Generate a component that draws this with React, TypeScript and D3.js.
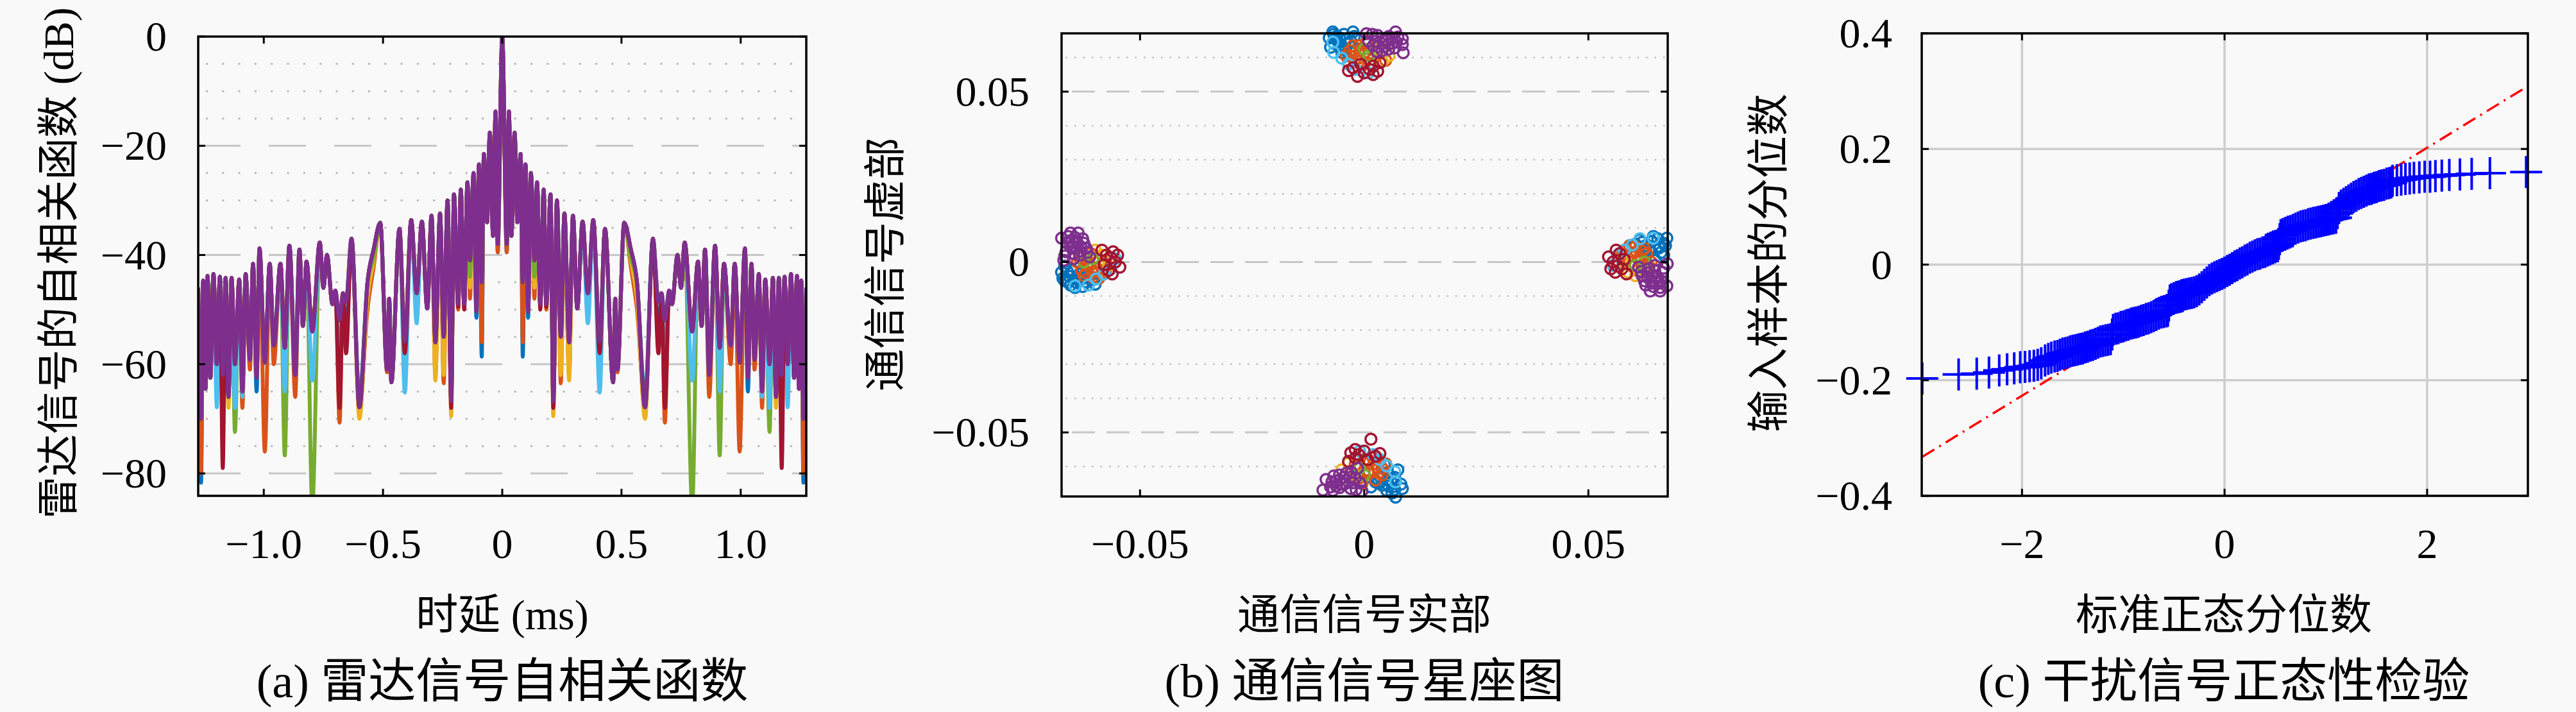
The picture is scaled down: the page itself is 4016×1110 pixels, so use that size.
import React from "react";
import { scaleLinear, line, curveMonotoneX } from "d3";

// ---------- (a) radar autocorrelation: positive lags, the curve is symmetric ----------
const lagMs = [
  0, 0.019, 0.028, 0.0385, 0.052, 0.0636, 0.077, 0.086, 0.0977, 0.1084, 0.12, 0.1353, 0.146,
  0.1595, 0.1738, 0.1846, 0.2025, 0.214, 0.2294, 0.2455, 0.2608, 0.2805, 0.2966, 0.3145, 0.337,
  0.359, 0.3817, 0.4086, 0.431, 0.465, 0.474, 0.483, 0.5116, 0.5385, 0.565, 0.599, 0.632, 0.655,
  0.668, 0.682, 0.7, 0.712, 0.735, 0.75, 0.765, 0.7966, 0.8208, 0.836, 0.8504, 0.868, 0.8925,
  0.912, 0.93, 0.958, 0.975, 0.9955, 1.018, 1.03, 1.045, 1.058, 1.076, 1.0896, 1.103, 1.121,
  1.135, 1.148, 1.16, 1.172, 1.184, 1.197, 1.211, 1.224, 1.236, 1.244, 1.254, 1.263, 1.275,
];
const purpleDb = [
  0, -38, -13.7, -36.5, -17.6, -34, -21.5, -45, -23.4, -50.4, -25, -41, -26.7, -49, -28, -49,
  -28.9, -66.8, -30, -55, -32.4, -56, -32.8, -49.8, -33.9, -47, -33.6, -55.8, -35.2, -63.3, -48,
  -61, -34.1, -38.8, -45, -67.9, -37, -48.6, -47, -52, -46.5, -49, -40, -46, -37.7, -54, -41.2,
  -53, -39, -62, -38.3, -57, -41.6, -56.6, -41.6, -59.7, -38.8, -62.5, -41.6, -59.2, -43.5, -65,
  -44.5, -60, -44.2, -66, -44.2, -62, -44, -60, -43.5, -62.5, -43.8, -64.5, -44.7, -70, -46,
];
// where the other runs dip below the purple trace: [lag, dB]
const blueDips: [number, number][] = [
  [0.019, -39.5], [0.086, -58.6], [0.1084, -51.5], [0.214, -66], [0.359, -51], [0.4086, -57],
  [0.599, -66], [0.655, -55], [0.682, -62], [0.868, -60], [1.03, -65], [1.263, -81.7],
];
const orangeDips: [number, number][] = [
  [0.019, -39.5], [0.086, -56], [0.1353, -48], [0.1846, -50], [0.2455, -63.5], [0.2805, -62],
  [0.359, -49], [0.483, -61.5], [0.5385, -42], [0.565, -50], [0.682, -70.7], [0.868, -66],
  [0.958, -60], [0.9955, -76], [1.058, -61], [1.0896, -68], [1.263, -80],
];
const yellowDips: [number, number][] = [
  [0.1353, -46], [0.214, -69.5], [0.2455, -62], [0.2805, -63], [0.5385, -41], [0.565, -48],
  [0.599, -70], [1.148, -68],
];
const greenDips: [number, number][] = [
  [0.1353, -44], [0.5385, -40.5], [0.7966, -86], [0.912, -76.7], [1.121, -72.4],
];
const cyanDips: [number, number][] = [
  [0.214, -64], [0.359, -52.5], [0.4086, -65.2], [0.682, -65], [0.7966, -63], [0.912, -65],
  [1.0896, -66], [1.121, -68], [1.197, -67.9],
];
const redDips: [number, number][] = [
  [0.1595, -50], [0.1846, -49.5], [0.214, -68], [0.4086, -58], [0.655, -58], [0.682, -68],
  [1.172, -79],
];
const aXTicks = [-1, -0.5, 0, 0.5, 1];
const aXLabels = ["−1.0", "−0.5", "0", "0.5", "1.0"];
const aYTicks = [0, -20, -40, -60, -80];
const aYLabels = ["0", "−20", "−40", "−60", "−80"];
const aMinorGrid = [-5, -10, -15, -25, -30, -35, -45, -50, -55, -65, -70, -75];
const aMajorGrid = [-20, -40, -60, -80];

// ---------- (b) constellation: [real, imag] per run ----------
const blueSyms: [number, number][] = [
  [-0.0675, -0.003], [-0.066, -0.006], [-0.064, -0.005], [-0.0668, -0.0012], [-0.0628, -0.0072], [-0.0615, -0.004], [-0.065, -0.0025], [-0.06, -0.0065],
  [-0.0672, -0.0048], [-0.0655, -0.0068], [-0.0635, -0.0035], [-0.062, -0.0058], [-0.0668, -0.0055], [-0.0645, -0.0075],
  [-0.0658, -0.0042], [-0.0642, -0.006], [-0.0628, -0.0048], [-0.0662, -0.0028], [-0.0605, -0.0052],
  [-0.007, 0.0675], [-0.0045, 0.0668], [-0.0025, 0.0675], [-0.006, 0.065], [-0.0035, 0.064], [-0.0075, 0.063], [-0.0015, 0.0655], [-0.005, 0.0615],
  [-0.0062, 0.0662], [-0.004, 0.0652], [-0.0068, 0.0642], [-0.0048, 0.0628], [-0.0022, 0.0662], [-0.0078, 0.0658],
  [-0.0055, 0.0658], [-0.0052, 0.0638], [-0.003, 0.0648], [-0.0068, 0.0668], [-0.0042, 0.0622],
  [0.0675, 0.007], [0.066, 0.0045], [0.064, 0.006], [0.0668, 0.002], [0.0628, 0.0035], [0.0615, 0.0065], [0.065, 0.0005], [0.06, 0.005],
  [0.0672, 0.0048], [0.0655, 0.0068], [0.0635, 0.0035], [0.062, 0.0058], [0.0668, 0.0055], [0.0645, 0.0075],
  [0.0658, 0.0042], [0.0642, 0.006], [0.0628, 0.0048], [0.0662, 0.0028], [0.0605, 0.0052],
  [0.007, -0.069], [0.005, -0.067], [0.0085, -0.0665], [0.006, -0.0645], [0.0035, -0.063], [0.0075, -0.061], [0.0015, -0.066], [0.0045, -0.0595],
  [0.0062, -0.0678], [0.004, -0.0655], [0.0068, -0.0632], [0.0052, -0.0618], [0.0025, -0.0645], [0.0082, -0.0652],
  [0.0055, -0.0658], [0.0052, -0.0638], [0.003, -0.0648], [0.0068, -0.0668], [0.0042, -0.0622],
];
const orangeSyms: [number, number][] = [
  [-0.062, 0.001], [-0.0595, -0.002], [-0.0605, -0.0045], [-0.058, 0], [-0.063, -0.0025], [-0.061, 0.0025], [-0.0585, -0.0035], [-0.064, 0],
  [-0.0612, -0.001], [-0.0598, 0.0012], [-0.0625, -0.004], [-0.0592, -0.0048], [-0.0635, 0.0012], [-0.0575, -0.002],
  [-0.0602, -0.0028], [-0.0615, 0], [-0.0588, -0.0012], [-0.062, -0.0032],
  [-0.001, 0.062], [0.002, 0.0595], [-0.004, 0.0605], [0, 0.058], [-0.0025, 0.0635], [0.003, 0.0615], [-0.0035, 0.0585], [0.0005, 0.0645],
  [0.001, 0.0612], [-0.0012, 0.0598], [0.004, 0.0625], [0.0048, 0.0592], [-0.0012, 0.0635], [0.002, 0.0575],
  [-0.0028, 0.0602], [0, 0.0615], [-0.0012, 0.0588], [-0.0032, 0.062],
  [0.062, -0.001], [0.0595, 0.002], [0.0605, 0.0045], [0.058, 0], [0.063, 0.0025], [0.061, -0.0025], [0.0585, 0.0035], [0.064, 0],
  [0.0612, 0.001], [0.0598, -0.0012], [0.0625, 0.004], [0.0592, 0.0048], [0.0635, -0.0012], [0.0575, 0.002],
  [0.0602, 0.0028], [0.0615, 0], [0.0588, 0.0012], [0.062, 0.0032],
  [0.001, -0.062], [-0.002, -0.0595], [0.004, -0.0605], [0, -0.058], [0.0025, -0.064], [-0.003, -0.0615], [0.0035, -0.0585], [-0.0005, -0.065],
  [0.001, -0.0612], [-0.0012, -0.0598], [0.004, -0.0625], [0.0048, -0.0592], [-0.0012, -0.0635], [0.002, -0.0575],
  [0.0028, -0.0602], [0, -0.0615], [0.0012, -0.0588], [0.0032, -0.062],
];
const yellowSyms: [number, number][] = [
  [-0.0585, 0.002], [-0.057, -0.001], [-0.06, 0.0035],
  [0.004, 0.059], [0.003, 0.0625], [0.0055, 0.0605],
  [0.059, -0.003], [0.0575, 0.0005], [0.0605, -0.004],
  [-0.0035, -0.059], [-0.002, -0.0625], [-0.005, -0.061],
];
const greenSyms: [number, number][] = [
  [-0.0625, 0], [-0.0605, 0.001], [0, 0.0625], [0.001, 0.0605],
  [0.0625, 0], [0.0605, -0.001], [0, -0.0625], [-0.001, -0.0605],
];
const cyanSyms: [number, number][] = [
  [-0.058, -0.0035], [-0.0565, -0.002], [-0.0645, -0.007], [-0.0555, 0.001], [-0.0598, -0.005], [-0.0615, -0.0068],
  [-0.0035, 0.058], [-0.002, 0.0565], [-0.007, 0.0645], [0.001, 0.0555], [-0.005, 0.0598], [-0.0068, 0.0615],
  [0.058, 0.0035], [0.0565, 0.002], [0.0645, 0.007], [0.0555, -0.001], [0.0598, 0.005], [0.0615, 0.0068],
  [0.0035, -0.058], [0.002, -0.0565], [0.007, -0.0645], [-0.001, -0.0555], [0.005, -0.0598], [0.0068, -0.0615],
];
const redSyms: [number, number][] = [
  [-0.0575, 0.002], [-0.0555, 0], [-0.057, -0.0025], [-0.0585, 0.0035], [-0.0545, -0.0015], [-0.056, 0.003],
  [-0.0565, 0.0012], [-0.058, -0.0008], [-0.055, 0.002], [-0.0562, -0.0035],
  [0.002, 0.0575], [0, 0.0555], [-0.0025, 0.057], [0.0035, 0.0585], [-0.0015, 0.0545], [0.003, 0.056],
  [0.0012, 0.0565], [-0.0008, 0.058], [0.002, 0.055], [-0.0035, 0.0562],
  [0.0575, -0.002], [0.0555, 0], [0.057, 0.0025], [0.0585, -0.0035], [0.0545, 0.0015], [0.056, -0.003],
  [0.0565, -0.0012], [0.058, 0.0008], [0.055, -0.002], [0.0562, 0.0035],
  [-0.002, -0.0575], [0, -0.0555], [0.0025, -0.057], [-0.0035, -0.0585], [0.0015, -0.052], [-0.003, -0.056],
  [-0.0012, -0.0565], [0.0008, -0.058], [-0.002, -0.055], [0.0035, -0.0562],
];
const purpleSyms: [number, number][] = [
  [-0.0675, 0.007], [-0.0665, 0.003], [-0.064, 0.0055], [-0.0635, 0.002], [-0.0655, 0.0085], [-0.062, 0.004], [-0.067, 0.0005], [-0.0648, 0.001], [-0.0628, 0.0068], [-0.0612, 0.0015],
  [-0.0662, 0.0055], [-0.065, 0.0042], [-0.0632, 0.0032], [-0.0645, 0.0072], [-0.0668, 0.0018], [-0.0625, 0.0055], [-0.0658, 0.0062], [-0.0638, 0.0085],
  [-0.0652, 0.0048], [-0.0642, 0.0062], [-0.066, 0.0075], [-0.0632, 0.0045], [-0.0648, 0.0025], [-0.0618, 0.0028],
  [0.007, 0.0675], [0.003, 0.0665], [0.0055, 0.064], [0.002, 0.0635], [0.0085, 0.0655], [0.004, 0.062], [0.0005, 0.067], [0.001, 0.0648], [0.0068, 0.0628], [0.0087, 0.0614],
  [0.0055, 0.0662], [0.0042, 0.065], [0.0032, 0.0632], [0.0072, 0.0645], [0.0018, 0.0668], [0.0055, 0.0625], [0.0062, 0.0658], [0.0085, 0.0638],
  [0.0048, 0.0652], [0.0062, 0.0642], [0.0075, 0.066], [0.0045, 0.0632], [0.0025, 0.0648], [0.0028, 0.0618],
  [0.0675, -0.007], [0.0665, -0.003], [0.064, -0.0055], [0.0635, -0.002], [0.066, -0.0085], [0.062, -0.004], [0.0676, -0.0005], [0.0648, -0.001], [0.0628, -0.0068], [0.0612, -0.0015],
  [0.0662, -0.0055], [0.065, -0.0042], [0.0632, -0.0032], [0.0645, -0.0072], [0.0668, -0.0018], [0.0625, -0.0055], [0.0658, -0.0062], [0.0638, -0.0085],
  [0.0652, -0.0048], [0.0642, -0.0062], [0.066, -0.0075], [0.0632, -0.0045], [0.0648, -0.0025], [0.0618, -0.0028],
  [-0.007, -0.067], [-0.003, -0.0665], [-0.0055, -0.064], [-0.002, -0.0635], [-0.0092, -0.0669], [-0.004, -0.062], [-0.0005, -0.0672], [-0.001, -0.0648], [-0.0068, -0.0628], [-0.0015, -0.0605],
  [-0.0055, -0.0662], [-0.0042, -0.065], [-0.0032, -0.0632], [-0.0072, -0.0645], [-0.0018, -0.0668], [-0.0055, -0.0625], [-0.0062, -0.0658], [-0.0085, -0.0638],
  [-0.0048, -0.0652], [-0.0062, -0.0642], [-0.0075, -0.066], [-0.0045, -0.0632], [-0.0025, -0.0648], [-0.0028, -0.0618],
];
const bTicks = [-0.05, 0, 0.05];
const bLabels = ["−0.05", "0", "0.05"];
const bMinorGrid = [-0.06, -0.04, -0.03, -0.02, -0.01, 0.01, 0.02, 0.03, 0.04, 0.06];

// ---------- (c) normal probability plot: [standard normal quantile, sample quantile] ----------
const qqLowerTail: [number, number][] = [
  [-2.985, -0.197], [-2.626, -0.19], [-2.447, -0.1886], [-2.326, -0.1868], [-2.225, -0.183],
  [-2.147, -0.181], [-2.077, -0.1795], [-2.018, -0.1775], [-1.97, -0.177], [-1.925, -0.176],
  [-1.883, -0.175], [-1.845, -0.1735], [-1.81, -0.1705], [-1.772, -0.166], [-1.74, -0.163],
  [-1.71, -0.161], [-1.678, -0.159],
];
const qqBody: [number, number][] = [
  [-1.65, -0.158], [-1.625, -0.156], [-1.6, -0.154], [-1.575, -0.153], [-1.55, -0.152], [-1.525, -0.15],
  [-1.5, -0.149], [-1.475, -0.148], [-1.45, -0.147], [-1.425, -0.146], [-1.4, -0.145], [-1.375, -0.143],
  [-1.35, -0.142], [-1.325, -0.14], [-1.3, -0.139], [-1.275, -0.137], [-1.25, -0.135], [-1.225, -0.133],
  [-1.2, -0.132], [-1.175, -0.131], [-1.15, -0.13], [-1.125, -0.129], [-1.11, -0.121], [-1.1, -0.113],
  [-1.075, -0.111], [-1.05, -0.11], [-1.025, -0.108], [-1, -0.107], [-0.975, -0.105], [-0.95, -0.104],
  [-0.925, -0.102], [-0.9, -0.101], [-0.875, -0.1], [-0.85, -0.099], [-0.825, -0.097], [-0.8, -0.096],
  [-0.775, -0.094], [-0.75, -0.093], [-0.725, -0.091], [-0.7, -0.089], [-0.675, -0.087], [-0.65, -0.085],
  [-0.625, -0.083], [-0.6, -0.082], [-0.575, -0.081], [-0.56, -0.08], [-0.55, -0.071], [-0.54, -0.062],
  [-0.525, -0.06], [-0.5, -0.058], [-0.475, -0.056], [-0.45, -0.055], [-0.425, -0.053], [-0.4, -0.052],
  [-0.375, -0.051], [-0.35, -0.05], [-0.325, -0.049], [-0.3, -0.048], [-0.275, -0.046], [-0.25, -0.043],
  [-0.225, -0.039], [-0.2, -0.035], [-0.175, -0.031], [-0.15, -0.027], [-0.125, -0.024], [-0.1, -0.022],
  [-0.075, -0.02], [-0.05, -0.018], [-0.025, -0.016], [0, -0.014], [0.025, -0.011], [0.05, -0.009],
  [0.075, -0.006], [0.1, -0.003], [0.125, -0.001], [0.15, 0.002], [0.175, 0.004], [0.2, 0.007],
  [0.225, 0.009], [0.25, 0.012], [0.275, 0.014], [0.3, 0.016], [0.325, 0.018], [0.35, 0.019],
  [0.375, 0.021], [0.4, 0.022], [0.425, 0.024], [0.45, 0.026], [0.475, 0.028], [0.5, 0.03],
  [0.525, 0.032], [0.535, 0.036], [0.545, 0.044], [0.555, 0.051], [0.575, 0.053], [0.6, 0.055],
  [0.625, 0.057], [0.65, 0.058], [0.675, 0.06], [0.7, 0.062], [0.725, 0.064], [0.75, 0.066],
  [0.775, 0.067], [0.8, 0.068], [0.825, 0.07], [0.85, 0.071], [0.875, 0.072], [0.9, 0.073],
  [0.925, 0.074], [0.95, 0.075], [0.975, 0.076], [1, 0.077], [1.025, 0.078], [1.05, 0.079],
  [1.075, 0.08], [1.1, 0.081], [1.115, 0.089], [1.13, 0.098], [1.15, 0.102], [1.175, 0.105],
  [1.2, 0.108], [1.225, 0.111], [1.25, 0.114], [1.275, 0.117], [1.3, 0.119], [1.325, 0.122],
  [1.35, 0.124], [1.375, 0.126], [1.4, 0.128], [1.425, 0.13], [1.45, 0.131], [1.475, 0.133],
  [1.5, 0.134], [1.525, 0.136], [1.55, 0.137], [1.575, 0.138], [1.6, 0.14], [1.625, 0.141], [1.645, 0.142],
];
const qqUpperTail: [number, number][] = [
  [1.659, 0.145], [1.702, 0.146], [1.744, 0.147], [1.786, 0.148], [1.828, 0.149], [1.87, 0.15],
  [1.923, 0.151], [1.976, 0.152], [2.029, 0.152], [2.082, 0.153], [2.145, 0.154], [2.219, 0.155],
  [2.324, 0.156], [2.44, 0.157], [2.62, 0.158], [2.978, 0.16],
];
const qqRefLine: [number, number][] = [[-2.985, -0.3325], [2.978, 0.307]];
const cXTicks = [-2, 0, 2];
const cXLabels = ["−2", "0", "2"];
const cYTicks = [-0.4, -0.2, 0, 0.2, 0.4];
const cYLabels = ["−0.4", "−0.2", "0", "0.2", "0.4"];

// ---------- layout ----------
const W = 4016;
const H = 1110;
const BG = "#f9f9f9";
const NUM_FONT = "'Liberation Serif', 'DejaVu Serif', serif";
const TXT_FONT = "'Liberation Serif', 'Noto Sans CJK SC', serif";
const TICK_FS = 66;
const TITLE_FS = 66;
const CAPTION_FS = 74;

type Box = { left: number; right: number; top: number; bottom: number };
const boxA: Box = { left: 309, right: 1257, top: 57, bottom: 773 };
const boxB: Box = { left: 1655, right: 2600, top: 52, bottom: 774 };
const boxC: Box = { left: 2996, right: 3941, top: 52, bottom: 773 };

const C = {
  blue: "#0072BD",
  orange: "#D95319",
  yellow: "#EDB120",
  purple: "#7E2F8E",
  green: "#77AC30",
  cyan: "#4DBEEE",
  red: "#A2142F",
};

function mirrored(dips: [number, number][]): [number, number][] {
  const dip = new Map(dips);
  const pos = lagMs.map((t, i) => [t, dip.get(t) ?? purpleDb[i]] as [number, number]);
  const neg = pos.slice(1).reverse().map(([t, v]) => [-t, v] as [number, number]);
  return [...neg, ...pos];
}

function Frame({
  box,
  x,
  y,
  xTicks,
  xLabels,
  yTicks,
  yLabels,
  yLabelGap,
}: {
  box: Box;
  x: (v: number) => number;
  y: (v: number) => number;
  xTicks: number[];
  xLabels: string[];
  yTicks: number[];
  yLabels: string[];
  yLabelGap: number;
}) {
  const tl = 11;
  return (
    <g>
      {xTicks.map((t) => (
        <g key={`xt${t}`} stroke="#000" strokeWidth={3}>
          <line x1={x(t)} x2={x(t)} y1={box.bottom} y2={box.bottom - tl} />
          <line x1={x(t)} x2={x(t)} y1={box.top} y2={box.top + tl} />
        </g>
      ))}
      {yTicks.map((t) => (
        <g key={`yt${t}`} stroke="#000" strokeWidth={3}>
          <line x1={box.left} x2={box.left + tl} y1={y(t)} y2={y(t)} />
          <line x1={box.right} x2={box.right - tl} y1={y(t)} y2={y(t)} />
        </g>
      ))}
      <rect
        x={box.left}
        y={box.top}
        width={box.right - box.left}
        height={box.bottom - box.top}
        fill="none"
        stroke="#000"
        strokeWidth={3.5}
      />
      {xTicks.map((t, i) => (
        <text key={`xl${t}`} x={x(t)} y={870} textAnchor="middle" fontFamily={NUM_FONT} fontSize={TICK_FS}>
          {xLabels[i]}
        </text>
      ))}
      {yTicks.map((t, i) => (
        <text
          key={`yl${t}`}
          x={box.left - yLabelGap}
          y={y(t) + 22}
          textAnchor="end"
          fontFamily={NUM_FONT}
          fontSize={TICK_FS}
        >
          {yLabels[i]}
        </text>
      ))}
    </g>
  );
}

function Titles({ cx, xTitle, yTitle, yx, yc, caption }: {
  cx: number; xTitle: string; yTitle: string; yx: number; yc: number; caption: string;
}) {
  return (
    <g fontFamily={TXT_FONT} fill="#000">
      <text x={cx} y={981} textAnchor="middle" fontSize={TITLE_FS}>{xTitle}</text>
      <text transform={`translate(${yx},${yc}) rotate(-90)`} textAnchor="middle" fontSize={TITLE_FS}>
        {yTitle}
      </text>
      <text x={cx} y={1087} textAnchor="middle" fontSize={CAPTION_FS}>{caption}</text>
    </g>
  );
}

export default function App() {
  // (a)
  const xA = scaleLinear().domain([-1.275, 1.275]).range([boxA.left, boxA.right]);
  const yA = scaleLinear().domain([-84.1, 0]).range([boxA.bottom, boxA.top]);
  const lineA = line<[number, number]>()
    .x((d) => xA(d[0]))
    .y((d) => yA(d[1]))
    .curve(curveMonotoneX);
  const runsA: { color: string; dips: [number, number][] }[] = [
    { color: C.blue, dips: blueDips },
    { color: C.orange, dips: orangeDips },
    { color: C.yellow, dips: yellowDips },
    { color: C.green, dips: greenDips },
    { color: C.cyan, dips: cyanDips },
    { color: C.red, dips: redDips },
    { color: C.purple, dips: [] },
  ];

  // (b)
  const xB = scaleLinear().domain([-0.0675, 0.0677]).range([boxB.left, boxB.right]);
  const yB = scaleLinear().domain([-0.0688, 0.0671]).range([boxB.bottom, boxB.top]);
  const runsB: { color: string; pts: [number, number][] }[] = [
    { color: C.blue, pts: blueSyms },
    { color: C.orange, pts: orangeSyms },
    { color: C.yellow, pts: yellowSyms },
    { color: C.green, pts: greenSyms },
    { color: C.cyan, pts: cyanSyms },
    { color: C.red, pts: redSyms },
    { color: C.purple, pts: purpleSyms },
  ];

  // (c)
  const xC = scaleLinear().domain([-2.99, 2.995]).range([boxC.left, boxC.right]);
  const yC = scaleLinear().domain([-0.4, 0.4]).range([boxC.bottom, boxC.top]);
  const qqAll = [...qqLowerTail, ...qqBody, ...qqUpperTail];
  const plusArm = 25;

  return (
    <div style={{ position: "absolute", left: 0, top: 0 }}>
      <svg width={W} height={H} viewBox={`0 0 ${W} ${H}`} style={{ display: "block" }}>
        <rect width={W} height={H} fill={BG} />
        <defs>
          <clipPath id="clipA">
            <rect x={boxA.left} y={boxA.top} width={boxA.right - boxA.left} height={boxA.bottom - boxA.top} />
          </clipPath>
        </defs>

        {/* ---- panel (a) ---- */}
        <g>
          {aMinorGrid.map((v) => (
            <line key={`am${v}`} x1={boxA.left} x2={boxA.right} y1={yA(v)} y2={yA(v)}
              stroke="#b8b8b8" strokeWidth={3} strokeDasharray="3 22.3" strokeDashoffset={-12} />
          ))}
          {aMajorGrid.map((v) => (
            <line key={`aM${v}`} x1={boxA.left} x2={boxA.right} y1={yA(v)} y2={yA(v)}
              stroke="#c6c6c6" strokeWidth={3} strokeDasharray="58 44" strokeDashoffset={-8} />
          ))}
          <g clipPath="url(#clipA)" fill="none" strokeWidth={6} strokeLinejoin="round">
            {runsA.map((r) => (
              <path key={r.color} d={lineA(mirrored(r.dips)) ?? ""} stroke={r.color} />
            ))}
          </g>
          <Frame box={boxA} x={xA} y={yA} xTicks={aXTicks} xLabels={aXLabels}
            yTicks={aYTicks} yLabels={aYLabels} yLabelGap={49} />
          <Titles cx={783} xTitle="时延 (ms)" yTitle="雷达信号的自相关函数 (dB)" yx={114} yc={410}
            caption="(a) 雷达信号自相关函数" />
        </g>

        {/* ---- panel (b) ---- */}
        <g>
          {bMinorGrid.map((v) => (
            <line key={`bm${v}`} x1={boxB.left} x2={boxB.right} y1={yB(v)} y2={yB(v)}
              stroke="#bcbcbc" strokeWidth={2.5} strokeDasharray="2.5 11" strokeDashoffset={-20} />
          ))}
          {bTicks.map((v) => (
            <line key={`bM${v}`} x1={boxB.left} x2={boxB.right} y1={yB(v)} y2={yB(v)}
              stroke="#c6c6c6" strokeWidth={3} strokeDasharray="36 18" strokeDashoffset={-16} />
          ))}
          {runsB.map((r) => (
            <g key={r.color} fill="none" stroke={r.color} strokeWidth={3.5}>
              {r.pts.map((p, i) => (
                <circle key={i} cx={xB(p[0])} cy={yB(p[1])} r={8.5} />
              ))}
            </g>
          ))}
          <Frame box={boxB} x={xB} y={yB} xTicks={bTicks} xLabels={bLabels}
            yTicks={bTicks} yLabels={bLabels} yLabelGap={50} />
          <Titles cx={2127} xTitle="通信信号实部" yTitle="通信信号虚部" yx={1403} yc={412}
            caption="(b) 通信信号星座图" />
        </g>

        {/* ---- panel (c) ---- */}
        <g>
          {cXTicks.map((v) => (
            <line key={`cgx${v}`} x1={xC(v)} x2={xC(v)} y1={boxC.top} y2={boxC.bottom}
              stroke="#cdcdcd" strokeWidth={3.5} />
          ))}
          {cYTicks.map((v) => (
            <line key={`cgy${v}`} x1={boxC.left} x2={boxC.right} y1={yC(v)} y2={yC(v)}
              stroke="#cdcdcd" strokeWidth={3.5} />
          ))}
          <line x1={xC(qqRefLine[0][0])} y1={yC(qqRefLine[0][1])} x2={xC(qqRefLine[1][0])} y2={yC(qqRefLine[1][1])}
            stroke="#ff0000" strokeWidth={3.5} strokeDasharray="22 9 3 9" />
          <g stroke="#0000ff" strokeWidth={4} fill="none">
            {qqAll.map((p, i) => {
              const px = xC(p[0]);
              const py = yC(p[1]);
              return (
                <path key={i} d={`M${px - plusArm},${py}H${px + plusArm}M${px},${py - plusArm}V${py + plusArm}`} />
              );
            })}
          </g>
          <Frame box={boxC} x={xC} y={yC} xTicks={cXTicks} xLabels={cXLabels}
            yTicks={cYTicks} yLabels={cYLabels} yLabelGap={46} />
          <Titles cx={3467} xTitle="标准正态分位数" yTitle="输入样本的分位数" yx={2780} yc={410}
            caption="(c) 干扰信号正态性检验" />
        </g>
      </svg>
    </div>
  );
}
